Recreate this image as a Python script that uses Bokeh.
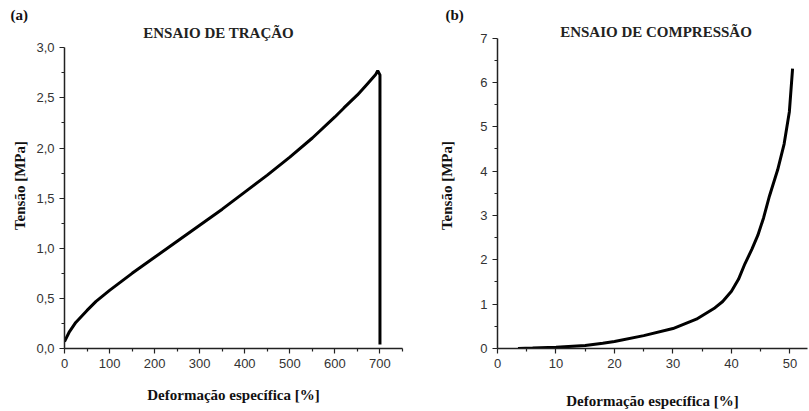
from bokeh.plotting import figure
from bokeh.layouts import row
from bokeh.models import FixedTicker, Range1d, Label
from bokeh.embed import file_html
from bokeh.resources import INLINE

# Tensile test (a)
tr_strain = [0, 10, 25, 50, 70, 100, 150, 200, 250, 300, 350, 400, 450, 500,
             550, 600, 620, 650, 672, 690, 695, 700, 700]
tr_stress = [0.07, 0.16, 0.26, 0.38, 0.47, 0.58, 0.75, 0.91, 1.07, 1.23, 1.39,
             1.56, 1.73, 1.91, 2.10, 2.31, 2.40, 2.53, 2.64, 2.73, 2.77, 2.73, 0.04]

# Compression test (b)
co_strain = [3.5, 6, 10, 15, 18, 20, 25, 30, 34, 37, 38.5, 40, 41.2, 42.3, 43.5,
             44.5, 45.5, 46.5, 47.9, 49.0, 49.9, 50.45]
co_stress = [0.0, 0.01, 0.03, 0.07, 0.12, 0.16, 0.29, 0.45, 0.66, 0.90, 1.06,
             1.29, 1.56, 1.91, 2.24, 2.55, 2.95, 3.44, 4.03, 4.61, 5.34, 6.31]

x_ticks_a = [0, 100, 200, 300, 400, 500, 600, 700]
x_minor_a = [50, 150, 250, 350, 450, 550, 650, 750]
y_ticks_a = [0.0, 0.5, 1.0, 1.5, 2.0, 2.5, 3.0]
y_minor_a = [0.25, 0.75, 1.25, 1.75, 2.25, 2.75]
y_labels_a = ["0,0", "0,5", "1,0", "1,5", "2,0", "2,5", "3,0"]

x_ticks_b = [0, 10, 20, 30, 40, 50]
x_minor_b = [5, 15, 25, 35, 45]
y_ticks_b = [0, 1, 2, 3, 4, 5, 6, 7]
y_minor_b = [0.5, 1.5, 2.5, 3.5, 4.5, 5.5, 6.5]

SERIF = "Liberation Serif"
SANS = "Liberation Sans"
H = 411


def style(p, xt, xm, yt, ym, ylabels=None):
    p.outline_line_color = None
    p.grid.visible = False
    p.xaxis.ticker = FixedTicker(ticks=xt, minor_ticks=xm)
    p.yaxis.ticker = FixedTicker(ticks=yt, minor_ticks=ym)
    p.yaxis.bounds = (yt[0], yt[-1])
    if ylabels:
        p.yaxis.major_label_overrides = {v: l for v, l in zip(yt, ylabels)}
    for ax in (p.xaxis, p.yaxis):
        ax.axis_line_width = 1.5
        ax.axis_line_color = "#222222"
        ax.major_tick_line_color = "#222222"
        ax.minor_tick_line_color = "#222222"
        ax.major_tick_line_width = 1.2
        ax.minor_tick_line_width = 1.2
        ax.major_tick_out = 5
        ax.major_tick_in = 0
        ax.minor_tick_out = 3
        ax.minor_tick_in = 0
        ax.major_label_text_font = SANS
        ax.major_label_text_font_size = "13px"
        ax.major_label_text_color = "#333333"
        ax.axis_label_text_font = SERIF
        ax.axis_label_text_font_style = "bold"
        ax.axis_label_text_font_size = "15px"
        ax.axis_label_text_color = "#111111"
    p.xaxis.axis_label = "Deformação específica [%]"
    p.yaxis.axis_label = "Tensão [MPa]"
    p.yaxis.major_label_orientation = "horizontal"
    p.title.text_font = SERIF
    p.title.text_font_style = "bold"
    p.title.text_font_size = "15px"
    p.title.text_color = "#111111"
    p.title.align = "left"
    p.title.standoff = 0


def heading(text, x, y):
    return Label(x=x, y=y, text=text, text_font=SERIF, text_font_style="bold",
                 text_font_size="15px", text_color="#222222",
                 text_align="center", text_baseline="middle")


# both frames start at the same top; the y axes are bounded to their tick span
p1 = figure(width=436, height=H, output_backend="svg", toolbar_location=None,
            x_range=Range1d(0, 750), y_range=Range1d(0, 3.2524),
            title="(a)",
            min_border_left=64, min_border_right=34, min_border_top=22,
            min_border_bottom=H - 357)
style(p1, x_ticks_a, x_minor_a, y_ticks_a, y_minor_a, y_labels_a)
p1.title.offset = -54
p1.add_layout(heading("ENSAIO DE TRAÇÃO", 342, 3.146))
p1.xaxis.axis_label_standoff = 16
p1.yaxis.axis_label_standoff = 5
p1.line(tr_strain, tr_stress, line_color="black", line_width=3)

p2 = figure(width=373, height=H, output_backend="svg", toolbar_location=None,
            x_range=Range1d(0, 53), y_range=Range1d(0, 7.351),
            title="(b)",
            min_border_left=56, min_border_right=2, min_border_top=22,
            min_border_bottom=H - 357)
style(p2, x_ticks_b, x_minor_b, y_ticks_b, y_minor_b)
p2.title.offset = -52
p2.add_layout(heading("ENSAIO DE COMPRESSÃO", 27.1, 7.132))
p2.xaxis.axis_label_standoff = 22
p2.yaxis.axis_label_standoff = 22
p2.line(co_strain, co_stress, line_color="black", line_width=3)

layout = row(p1, p2)
open("out.html", "w").write(file_html(layout, INLINE))
